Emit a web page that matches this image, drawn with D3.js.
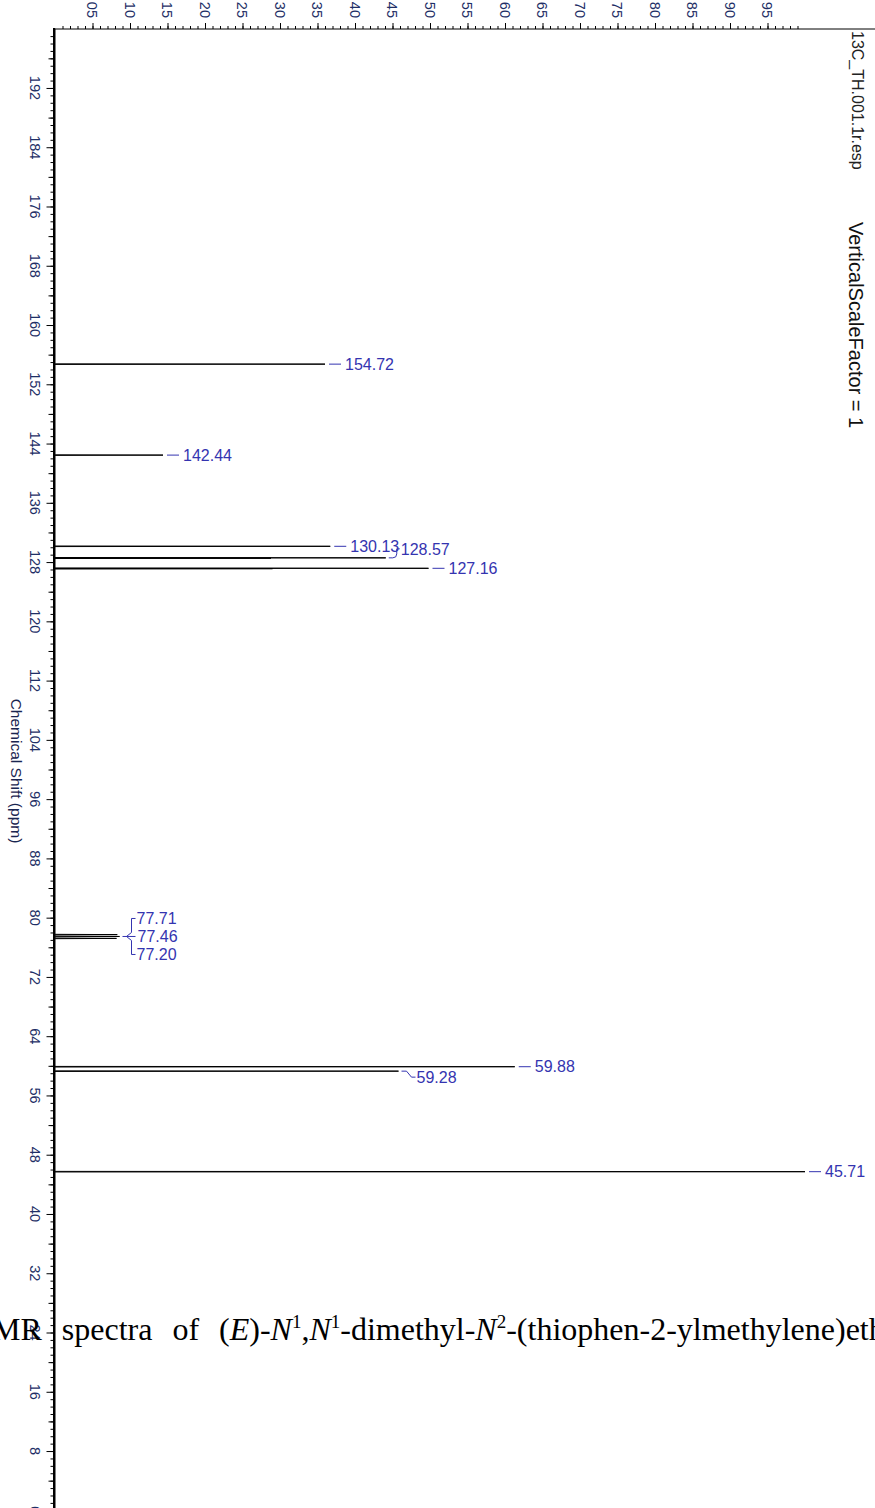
<!DOCTYPE html>
<html>
<head>
<meta charset="utf-8">
<script src="https://cdn.jsdelivr.net/npm/d3@7"></script>
<style>
  html, body { margin: 0; padding: 0; background: #fff; }
  svg { display: block; }
</style>
</head>
<body>
<div id="chart"></div>
<script>
// 13C NMR peak list: chemical shift (ppm) and relative intensity
const peakShifts      = [154.72, 142.44, 130.13, 128.57, 128.52, 127.16, 127.11, 77.71, 77.46, 77.20, 59.88, 59.28, 45.71];
const peakIntensities = [36.0,   14.4,   36.7,   44.1,   28.8,   49.8,   29.0,   8.3,   8.6,   8.2,   61.3,  45.8,  100.0];
const peakLabels      = ["154.72", "142.44", "130.13", "128.57", "", "127.16", "", "77.71", "77.46", "77.20", "59.88", "59.28", "45.71"];

// axis ticks
const shiftTickLabels = d3.range(0, 193, 8);           // 0, 8, ... 192
const intensityTickValues = d3.range(5, 100, 5);        // 05 ... 95
const intensityTickLabels = intensityTickValues.map(v => (v < 10 ? "0" + v : "" + v));

const W = 875, H = 1508;
const svg = d3.select("#chart").append("svg").attr("width", W).attr("height", H);

// chemical shift runs top (200 ppm) to bottom (0 ppm); intensity runs to the right
const y = d3.scaleLinear().domain([200, 0]).range([28.7, 28.7 + 200 * 7.408]);
const x = d3.scaleLinear().domain([0, 100]).range([55, 805]);
const axisX = 54, axisY = 29;

const tickColor = "#1e2f66";
const labelColor = "#3434b0";
const sans = "Liberation Sans, Arial, sans-serif";

// ---------- left (chemical shift) axis ----------
const gL = svg.append("g").attr("transform", `translate(${axisX},0)`);
gL.call(d3.axisLeft(y).tickValues(d3.range(1, 200, 1)).tickSize(3.5).tickFormat(""))
  .call(g => g.select(".domain").remove());
gL.append("g").call(d3.axisLeft(y).tickValues(d3.range(4, 200, 8)).tickSize(5.5).tickFormat(""))
  .call(g => g.select(".domain").remove());
gL.append("g").call(d3.axisLeft(y).tickValues(shiftTickLabels).tickSize(7.5).tickFormat(""))
  .call(g => g.select(".domain").remove());
gL.selectAll("line").attr("stroke", "#000").attr("stroke-width", 1);

svg.append("line").attr("x1", axisX).attr("x2", axisX).attr("y1", axisY - 1).attr("y2", H)
  .attr("stroke", "#000").attr("stroke-width", 2);

svg.append("g").selectAll("text").data(shiftTickLabels).join("text")
  .attr("transform", d => `translate(35,${y(d)}) rotate(90)`)
  .attr("text-anchor", "middle").attr("dy", "0.35em")
  .attr("font-family", sans).attr("font-size", 14.5)
  .attr("fill", tickColor)
  .text(d => d);

svg.append("text")
  .attr("transform", `translate(16,771) rotate(90)`)
  .attr("text-anchor", "middle").attr("dy", "0.35em")
  .attr("font-family", sans).attr("font-size", 15.5)
  .attr("fill", "#1a2550")
  .text("Chemical Shift (ppm)");

// ---------- top (intensity) axis ----------
const gT = svg.append("g").attr("transform", `translate(0,${axisY})`);
gT.call(d3.axisTop(x).tickValues(d3.range(1, 100, 1)).tickSize(3).tickFormat(""))
  .call(g => g.select(".domain").remove());
gT.append("g").call(d3.axisTop(x).tickValues(intensityTickValues).tickSize(6).tickFormat(""))
  .call(g => g.select(".domain").remove());
gT.selectAll("line").attr("stroke", "#000").attr("stroke-width", 1);

svg.append("line").attr("x1", axisX - 1).attr("x2", W).attr("y1", axisY).attr("y2", axisY)
  .attr("stroke", "#000").attr("stroke-width", 1);

svg.append("g").selectAll("text").data(intensityTickValues).join("text")
  .attr("transform", d => `translate(${x(d)},18) rotate(90)`)
  .attr("text-anchor", "end").attr("dy", "0.35em")
  .attr("font-family", sans).attr("font-size", 14.5)
  .attr("fill", tickColor)
  .text((d, i) => intensityTickLabels[i]);

// ---------- spectrum trace ----------
const pts = [[0, 200]];
peakShifts.forEach((s, i) => {
  pts.push([0, s + 0.04], [peakIntensities[i], s], [0, s - 0.04]);
});
pts.push([0, 0]);
pts.sort((a, b) => b[1] - a[1]);
svg.append("path")
  .datum(pts)
  .attr("d", d3.line().x(d => x(d[0])).y(d => y(d[1])))
  .attr("fill", "none").attr("stroke", "#000").attr("stroke-width", 1);

// ---------- peak labels ----------
// label offset (px) from the peak position and connector style
const labelLayout = {
  "128.57": { dy: -9, style: "hook" },
  "77.71": { dy: -18, style: "branch" },
  "77.46": { dy: 0, style: "dash" },
  "77.20": { dy: 18, style: "branch" },
  "59.28": { dy: 6, style: "drop" }
};
const gLab = svg.append("g")
  .attr("font-family", sans).attr("font-size", 16)
  .attr("fill", labelColor);

peakShifts.forEach((s, i) => {
  const txt = peakLabels[i];
  if (!txt) return;
  const lay = labelLayout[txt] || { dy: 0, style: "dash" };
  const px = x(peakIntensities[i]), py = y(s);
  let path, tx;
  if (txt.startsWith("77.")) {
    // shared bracket for the CDCl3 triplet
    const cx = x(d3.max([8.3, 8.6, 8.2])) + 3;
    const ly = y(77.46) + lay.dy;
    if (lay.style === "dash") {
      path = `M${cx},${ly}H${cx + 13}`;
      tx = cx + 15;
    } else {
      const bx = cx + 9;
      path = `M${cx + 4},${y(77.46)}L${bx},${y(77.46) + Math.sign(lay.dy) * 4}V${ly}H${bx + 4}`;
      tx = bx + 5;
    }
    gLab.append("path").attr("d", path).attr("fill", "none").attr("stroke", labelColor).attr("stroke-width", 1);
    gLab.append("text").attr("x", tx).attr("y", ly).attr("dy", "0.36em").text(txt);
    return;
  }
  const ly = py + lay.dy;
  if (lay.style === "hook") {
    path = `M${px + 3},${py}H${px + 7}Q${px + 11},${py} ${px + 11},${py - 4}V${ly}H${px + 14}`;
    tx = px + 15;
  } else if (lay.style === "drop") {
    path = `M${px + 3},${py}H${px + 8}L${px + 13},${ly}H${px + 17}`;
    tx = px + 18;
  } else {
    path = `M${px + 4},${py}H${px + 16}`;
    tx = px + 20;
  }
  gLab.append("path").attr("d", path).attr("fill", "none").attr("stroke", labelColor).attr("stroke-width", 1);
  gLab.append("text").attr("x", tx).attr("y", ly).attr("dy", "0.36em").text(txt);
});

// ---------- file name and scale factor ----------
svg.append("text")
  .attr("transform", `translate(858,31) rotate(90)`)
  .attr("text-anchor", "start").attr("dy", "0.35em")
  .attr("font-family", sans).attr("font-size", 16)
  .attr("fill", "#222")
  .text("13C_TH.001.1r.esp");

svg.append("text")
  .attr("transform", `translate(856,222) rotate(90)`)
  .attr("text-anchor", "start").attr("dy", "0.35em")
  .attr("font-family", sans).attr("font-size", 20)
  .attr("fill", "#111")
  .text("VerticalScaleFactor = 1");

// ---------- figure caption ----------
const cap = svg.append("text")
  .attr("x", -8).attr("y", 1340)
  .attr("font-family", "Liberation Serif, Times New Roman, serif").attr("font-size", 32)
  .attr("fill", "#000")
  .attr("word-spacing", 12);
cap.append("tspan").text("MR spectra of (");
cap.append("tspan").attr("font-style", "italic").text("E");
cap.append("tspan").text(")-");
cap.append("tspan").attr("font-style", "italic").text("N");
cap.append("tspan").attr("font-size", 19).attr("dy", -12).text("1");
cap.append("tspan").attr("dy", 12).text(",");
cap.append("tspan").attr("font-style", "italic").text("N");
cap.append("tspan").attr("font-size", 19).attr("dy", -12).text("1");
cap.append("tspan").attr("dy", 12).text("-dimethyl-");
cap.append("tspan").attr("font-style", "italic").text("N");
cap.append("tspan").attr("font-size", 19).attr("dy", -12).text("2");
cap.append("tspan").attr("dy", 12).text("-(thiophen-2-ylmethylene)ethane-1,2-diamine");
</script>
</body>
</html>
